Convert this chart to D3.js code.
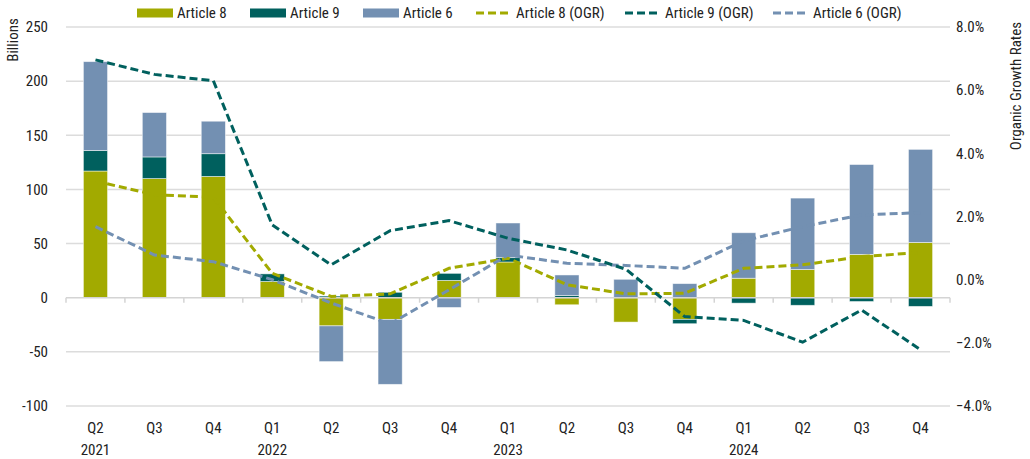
<!DOCTYPE html>
<html>
<head>
<meta charset="utf-8">
<script src="https://cdn.jsdelivr.net/npm/d3@7"></script>
<style>
  body { margin: 0; background: #fff; }
  text { font-family: "Liberation Sans Narrow", "Roboto Condensed", "DejaVu Sans Condensed", sans-serif; fill: #222; }
</style>
</head>
<body>
<div id="chart"></div>
<script>
// chart data
var quarters = ["Q2", "Q3", "Q4", "Q1", "Q2", "Q3", "Q4", "Q1", "Q2", "Q3", "Q4", "Q1", "Q2", "Q3", "Q4"];
var years = ["2021", "", "", "2022", "", "", "", "2023", "", "", "", "2024", "", "", ""];

// flows in billions
var article8 = [117, 110, 112, 15, -26, -20, 16, 33, -6.5, -22.5, -20, 18, 26, 40, 51];
var article9 = [19, 20, 21, 7, 1.5, 5, 6.5, 4, 2, 0, -4, -5, -7, -3.5, -8];
var article6 = [82, 41, 30, 0, -33, -60, -9, 32, 19, 17, 13, 42, 66, 83, 86];

// organic growth rates (%)
var article8OGR = [3.12, 2.69, 2.61, 0.2, -0.53, -0.45, 0.36, 0.68, -0.16, -0.45, -0.43, 0.36, 0.47, 0.73, 0.86];
var article9OGR = [6.96, 6.5, 6.3, 1.73, 0.47, 1.55, 1.87, 1.31, 0.94, 0.33, -1.17, -1.29, -1.98, -0.96, -2.22];
var article6OGR = [1.68, 0.78, 0.57, 0.0, -0.74, -1.4, -0.32, 0.78, 0.52, 0.45, 0.36, 1.23, 1.68, 2.05, 2.12];

var leftTicks = [250, 200, 150, 100, 50, 0, -50, -100];
var rightTicks = [8, 6, 4, 2, 0, -2, -4];

var colors = { a8: "#a2aa00", a9: "#00605e", a6: "#7390b2" };

var svgWidth = 1030;
var svgHeight = 459;
var margin = { top: 27, right: 80, bottom: 53, left: 66 };
var width = svgWidth - margin.left - margin.right;
var height = svgHeight - margin.top - margin.bottom;

var svg = d3.select("#chart")
  .append("svg")
  .attr("width", svgWidth)
  .attr("height", svgHeight);

var chartGroup = svg.append("g")
  .attr("transform", `translate(${margin.left}, ${margin.top})`);

// build table for stacking
var idx = d3.range(quarters.length);
var table = idx.map(function(i) {
  return { i: i, a8: article8[i], a9: article9[i], a6: article6[i] };
});

var xScale = d3.scaleBand()
  .domain(idx)
  .range([0, width])
  .paddingInner(0.59)
  .paddingOuter(0.295);

var xOuter = d3.scaleBand().domain(idx).range([0, width]);

var yLeft = d3.scaleLinear().domain([-100, 250]).range([height, 0]);
var yRight = d3.scaleLinear().domain([-4, 8]).range([height, 0]);

// gridlines
chartGroup.append("g")
  .selectAll("line")
  .data(leftTicks.filter(d => d !== 0))
  .enter()
  .append("line")
  .attr("x1", 0)
  .attr("x2", width)
  .attr("y1", d => yLeft(d))
  .attr("y2", d => yLeft(d))
  .attr("stroke", "#dcdcdc")
  .attr("stroke-width", 1.5);

// left axis labels
chartGroup.append("g")
  .selectAll("text")
  .data(leftTicks)
  .enter()
  .append("text")
  .attr("x", -18)
  .attr("y", d => yLeft(d))
  .attr("dy", "0.35em")
  .attr("text-anchor", "end")
  .style("font-size", "15px")
  .text(d => d);

// right axis labels
chartGroup.append("g")
  .selectAll("text")
  .data(rightTicks)
  .enter()
  .append("text")
  .attr("x", width + 6)
  .attr("y", d => yRight(d))
  .attr("dy", "0.35em")
  .attr("text-anchor", "start")
  .style("font-size", "15px")
  .text(d => d3.format(".1f")(d) + "%");

// stacked bars
var keys = ["a8", "a9", "a6"];
var stacked = d3.stack().keys(keys).offset(d3.stackOffsetDiverging)(table);

chartGroup.append("g")
  .selectAll("g")
  .data(stacked)
  .enter()
  .append("g")
  .attr("fill", d => colors[d.key])
  .selectAll("rect")
  .data(d => d)
  .enter()
  .append("rect")
  .attr("x", d => xScale(d.data.i))
  .attr("width", xScale.bandwidth())
  .attr("y", d => yLeft(Math.max(d[0], d[1])))
  .attr("height", d => Math.abs(yLeft(d[0]) - yLeft(d[1])))
  .attr("stroke", "rgba(255,255,255,0.6)")
  .attr("stroke-width", 0.8);

// zero axis with ticks
var bottomAxis = d3.axisBottom(xOuter).tickSize(0).tickFormat("");
chartGroup.append("line")
  .attr("x1", 0)
  .attr("x2", width)
  .attr("y1", yLeft(0))
  .attr("y2", yLeft(0))
  .attr("stroke", "#d4d4d4")
  .attr("stroke-width", 1.5);

chartGroup.append("g")
  .selectAll("line")
  .data(d3.range(quarters.length + 1))
  .enter()
  .append("line")
  .attr("x1", d => d * xOuter.step())
  .attr("x2", d => d * xOuter.step())
  .attr("y1", yLeft(0))
  .attr("y2", yLeft(0) + 5)
  .attr("stroke", "#d4d4d4")
  .attr("stroke-width", 1.5);

// OGR lines
var lineSeries = [
  { key: "a8", values: article8OGR },
  { key: "a6", values: article6OGR },
  { key: "a9", values: article9OGR }
];

var line = d3.line()
  .x((d, i) => xScale(i) + xScale.bandwidth() / 2)
  .y(d => yRight(d));

chartGroup.append("g")
  .selectAll("path")
  .data(lineSeries)
  .enter()
  .append("path")
  .attr("d", d => line(d.values))
  .attr("fill", "none")
  .attr("stroke", d => colors[d.key])
  .attr("stroke-width", 3)
  .attr("stroke-dasharray", "8,4");

// x labels
var xLabels = chartGroup.append("g")
  .attr("transform", `translate(0, ${height})`);

xLabels.selectAll(".q")
  .data(idx)
  .enter()
  .append("text")
  .attr("class", "q")
  .attr("x", d => xScale(d) + xScale.bandwidth() / 2)
  .attr("y", 22)
  .attr("dy", "0.35em")
  .attr("text-anchor", "middle")
  .style("font-size", "15px")
  .text(d => quarters[d]);

xLabels.selectAll(".yr")
  .data(idx.filter(d => years[d] !== ""))
  .enter()
  .append("text")
  .attr("class", "yr")
  .attr("x", d => xScale(d) + xScale.bandwidth() / 2)
  .attr("y", 44)
  .attr("dy", "0.35em")
  .attr("text-anchor", "middle")
  .style("font-size", "15px")
  .text(d => years[d]);

// axis titles
svg.append("text")
  .attr("transform", "translate(13, 40) rotate(-90)")
  .attr("text-anchor", "middle")
  .attr("dy", "0.35em")
  .style("font-size", "15px")
  .text("Billions");

svg.append("text")
  .attr("transform", "translate(1016, 86) rotate(-90)")
  .attr("text-anchor", "middle")
  .attr("dy", "0.35em")
  .style("font-size", "15px")
  .text("Organic Growth Rates");

// legend
var legendItems = [
  { label: "Article 8", key: "a8", type: "bar", x: 137 },
  { label: "Article 9", key: "a9", type: "bar", x: 250 },
  { label: "Article 6", key: "a6", type: "bar", x: 363 },
  { label: "Article 8 (OGR)", key: "a8", type: "line", x: 476 },
  { label: "Article 9 (OGR)", key: "a9", type: "line", x: 625 },
  { label: "Article 6 (OGR)", key: "a6", type: "line", x: 773 }
];

var legend = svg.append("g");
legendItems.forEach(function(item) {
  var g = legend.append("g").attr("transform", `translate(${item.x}, 13)`);
  if (item.type === "bar") {
    g.append("rect")
      .attr("x", 0)
      .attr("y", -4.5)
      .attr("width", 36)
      .attr("height", 9)
      .attr("fill", colors[item.key]);
  } else {
    g.append("line")
      .attr("x1", 0)
      .attr("x2", 36)
      .attr("y1", 0)
      .attr("y2", 0)
      .attr("stroke", colors[item.key])
      .attr("stroke-width", 3)
      .attr("stroke-dasharray", "8,4");
  }
  g.append("text")
    .attr("x", 40)
    .attr("y", 0)
    .attr("dy", "0.35em")
    .style("font-size", "15px")
    .text(item.label);
});
</script>
</body>
</html>
